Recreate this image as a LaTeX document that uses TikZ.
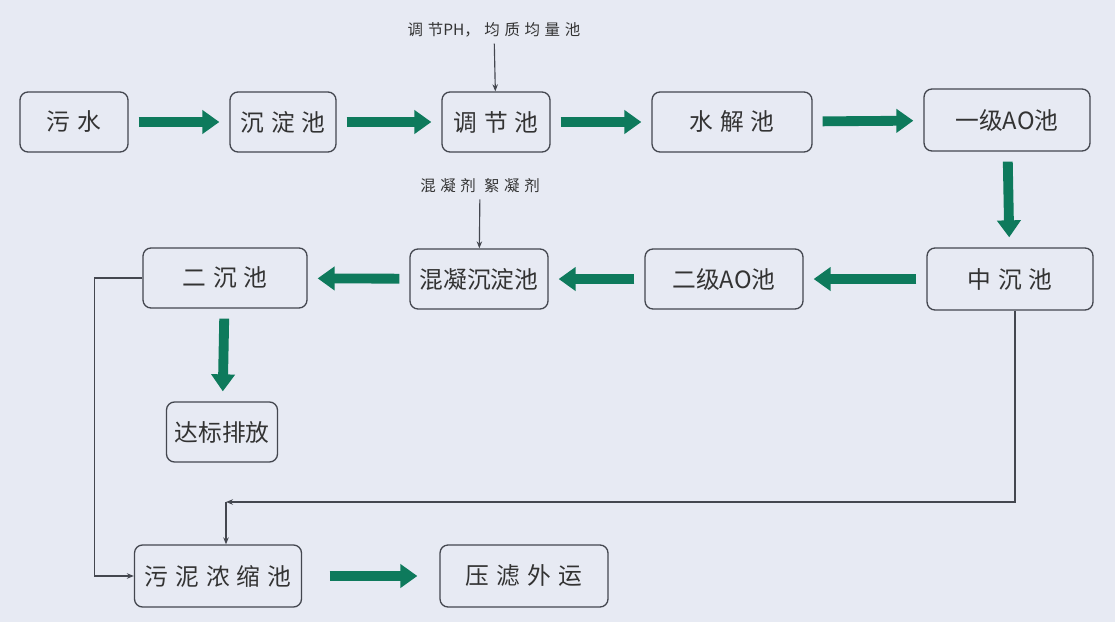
\documentclass[tikz,border=0pt]{standalone}
\usepackage{fontspec}
\setmainfont{Noto Sans CJK SC}
\newfontfamily\widecjk[LetterSpace=30]{Noto Sans CJK SC}
\usetikzlibrary{arrows.meta,positioning}
\definecolor{plantgreen}{HTML}{0E7A5C}
\definecolor{plantline}{HTML}{44474F}
\definecolor{plantbg}{HTML}{E7EAF3}
\tikzset{
  tank/.style={draw=plantline,rounded corners=1.6mm,align=center,minimum height=12mm,line width=.75pt,text=black!80,font=\fontsize{13.5}{16}\selectfont},
  widetank/.style={tank,font=\fontsize{13.5}{16}\selectfont\widecjk},
  note/.style={text=black!80,font=\fontsize{8.8}{10}\selectfont\widecjk},
  flow/.style={-{Triangle[length=3.4mm,width=4.6mm]},line width=5.6pt,plantgreen,shorten <=2mm,shorten >=2mm},
  feed/.style={-{Stealth[length=1.4mm,width=1.1mm]},line width=.65pt,plantline}
}
\begin{document}
\begin{tikzpicture}[x=0.02cm,y=-0.02cm]
  \fill[plantbg] (0,0) rectangle (1115,622);

  \node[widetank,minimum width=21.6mm] (sewage) at (74,122) {污水};
  \node[widetank,minimum width=21.2mm] (settle) at (283,122) {沉淀池};
  \node[widetank,minimum width=21.6mm] (adjust) at (496,122) {调节池};
  \node[widetank,minimum width=32mm] (hydro) at (732,122) {水解池};
  \node[tank,minimum width=33.2mm,minimum height=12.4mm] (aoone) at (1007,120) {一级AO池};

  \node[widetank,minimum width=33.2mm,minimum height=12.4mm] (midsettle) at (1010,279) {中沉池};
  \node[tank,minimum width=31.6mm] (aotwo) at (724,279) {二级AO池};
  \node[tank,minimum width=27.6mm] (coag) at (479,279) {混凝沉淀池};
  \node[widetank,minimum width=32.8mm] (secsettle) at (225,278) {二沉池};

  \node[tank,minimum width=22.2mm] (discharge) at (222,432) {达标排放};
  \node[widetank,minimum width=33.4mm,minimum height=12.4mm] (sludge) at (218,576) {污泥浓缩池};
  \node[widetank,minimum width=33.6mm,minimum height=12.4mm] (press) at (524,576) {压滤外运};

  \node[note] (phnote) at (494,30) {调节{\normalfont PH}，均质均量池};
  \node[note] (dosenote) at (480,186) {混凝剂 絮凝剂};
  \coordinate (sludgein) at (226,502);

  \draw[flow] (sewage) -- (settle);
  \draw[flow] (settle) -- (adjust);
  \draw[flow] (adjust) -- (hydro);
  \draw[flow] (hydro) -- (aoone);
  \draw[flow] (aoone) -- (midsettle);
  \draw[flow] (midsettle) -- (aotwo);
  \draw[flow] (aotwo) -- (coag);
  \draw[flow] (coag) -- (secsettle);
  \draw[flow] (secsettle) -- (discharge);
  \draw[flow,shorten <=5.5mm,shorten >=4.4mm] (sludge) -- (press);

  \draw[feed] (phnote) -- (adjust);
  \draw[feed] (dosenote) -- (coag);
  \draw[feed] (secsettle.west) -- ++(-48,0) |- (sludge.west);
  \draw[feed] ([xshift=1mm]midsettle.south) |- (sludgein);
  \draw[feed] (sludgein) -- (sludgein |- sludge.north);
\end{tikzpicture}
\end{document}
